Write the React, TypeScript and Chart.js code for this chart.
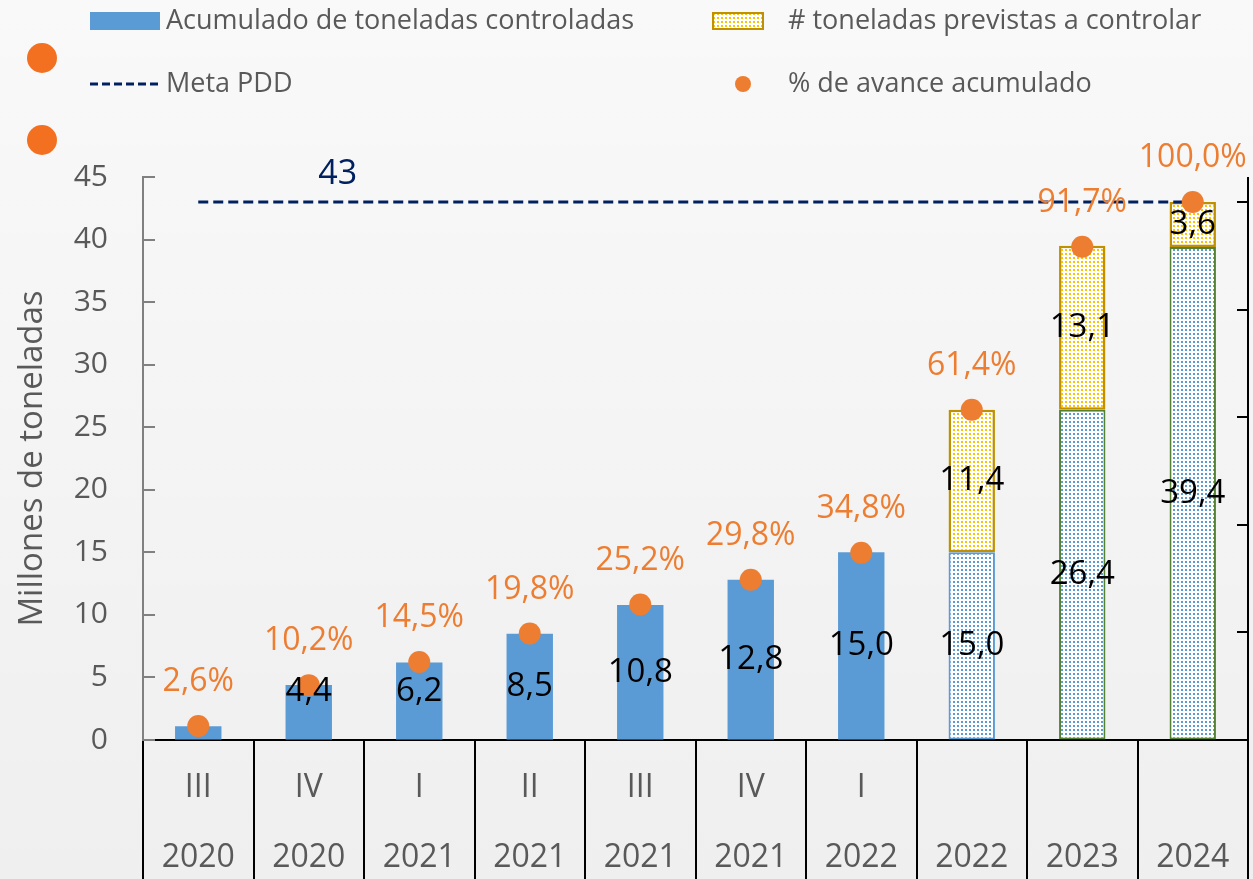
import React, { useEffect, useRef } from 'react';
import { Chart, registerables } from 'chart.js';

Chart.register(...registerables);

// ---------- Data ----------
const quarters = ['III', 'IV', 'I', 'II', 'III', 'IV', 'I', '', '', ''];
const years = ['2020', '2020', '2021', '2021', '2021', '2021', '2022', '2022', '2023', '2024'];
const controlled = [1.1, 4.4, 6.2, 8.5, 10.8, 12.8, 15.0, 15.0, 26.4, 39.4];
const forecast = [null, null, null, null, null, null, null, 11.4, 13.1, 3.6];
const progressPct = [2.6, 10.2, 14.5, 19.8, 25.2, 29.8, 34.8, 61.4, 91.7, 100.0];
const goalPDD = 43;
const yMax = 45;
const yStep = 5;
const pctStep = 20;

const legendLabels = [
  'Acumulado de toneladas controladas',
  '# toneladas previstas a controlar',
  'Meta PDD',
  '% de avance acumulado',
];

// ---------- Styles ----------
const FONT = '"Open Sans", "Noto Sans", sans-serif';
const GRAY = '#595959';
const BLUE = '#5B9BD5';
const ORANGE = '#ED7D31';
const YELLOW = '#FFC000';
const GOLD = '#BF9000';
const GREEN = '#548235';
const NAVY = '#002060';
const FIRST_FORECAST = 7;

function makeDots(color: string): CanvasPattern | string {
  const c = document.createElement('canvas');
  c.width = 4;
  c.height = 4;
  const g = c.getContext('2d');
  if (!g) return color;
  g.fillStyle = '#ffffff';
  g.fillRect(0, 0, 4, 4);
  g.fillStyle = color;
  g.fillRect(1, 1, 2, 2);
  const p = g.createPattern(c, 'repeat');
  return p || color;
}

const fmt = (v: number) => v.toFixed(1).replace('.', ',');

export default function App() {
  const ref = useRef<HTMLCanvasElement | null>(null);

  useEffect(() => {
    document.body.style.margin = '0';
    document.body.style.background = '#f4f4f4';
    const canvas = ref.current;
    if (!canvas) return;
    const blueDots = makeDots(BLUE);
    const yellowDots = makeDots(YELLOW);
    const labels = years.map((y, i) => [quarters[i], y]);

    const bgPlugin = {
      id: 'bg',
      beforeDraw(chart: any) {
        const { ctx, width, height } = chart;
        ctx.save();
        const grd = ctx.createLinearGradient(0, 0, 0, height);
        grd.addColorStop(0, '#f9f9f9');
        grd.addColorStop(1, '#efefef');
        ctx.fillStyle = grd;
        ctx.fillRect(0, 0, width, height);
        ctx.restore();
      },
    };

    const axesPlugin = {
      id: 'innerTicks',
      afterDraw(chart: any) {
        const { ctx, chartArea } = chart;
        const y = chart.scales.y;
        const y2 = chart.scales.y2;
        ctx.save();
        ctx.strokeStyle = '#808080';
        ctx.lineWidth = 2;
        y.ticks.forEach((t: any) => {
          const py = Math.round(y.getPixelForValue(t.value));
          ctx.beginPath();
          ctx.moveTo(chartArea.left, py);
          ctx.lineTo(chartArea.left + 12, py);
          ctx.stroke();
        });
        ctx.strokeStyle = '#000000';
        ctx.beginPath();
        ctx.moveTo(chartArea.right, chartArea.top);
        ctx.lineTo(chartArea.right, chartArea.bottom);
        ctx.stroke();
        y2.ticks
          .filter((t: any) => Math.abs(t.value / pctStep - Math.round(t.value / pctStep)) < 1e-6)
          .forEach((t: any) => {
            const py = Math.round(y2.getPixelForValue(t.value));
            ctx.beginPath();
            ctx.moveTo(chartArea.right - 11, py);
            ctx.lineTo(chartArea.right, py);
            ctx.stroke();
          });
        ctx.restore();
      },
    };

    const labelsPlugin = {
      id: 'valueLabels',
      afterDatasetsDraw(chart: any) {
        const { ctx } = chart;
        ctx.save();
        ctx.textAlign = 'center';
        ctx.textBaseline = 'middle';
        ctx.font = `33px ${FONT}`;
        ctx.fillStyle = '#000000';
        [0, 1].forEach((di) => {
          const meta = chart.getDatasetMeta(di);
          const data = chart.data.datasets[di].data;
          meta.data.forEach((el: any, i: number) => {
            const v = data[i];
            if (v == null || v < 2) return;
            let cy = (el.y + el.base) / 2;
            if (di === 0) cy = Math.min(cy, el.base - 48);
            ctx.fillText(fmt(v), el.x, cy);
          });
        });
        ctx.font = `32px ${FONT}`;
        ctx.fillStyle = ORANGE;
        const pm = chart.getDatasetMeta(3);
        pm.data.forEach((el: any, i: number) => {
          ctx.fillText(fmt(progressPct[i]) + '%', el.x, el.y - 44);
        });
        const lm = chart.getDatasetMeta(2);
        const p = lm.data[1];
        ctx.font = `34px ${FONT}`;
        ctx.fillStyle = NAVY;
        ctx.fillText(String(goalPDD), p.x + 29, p.y - 28);
        ctx.restore();
      },
    };

    const legendPlugin = {
      id: 'customLegend',
      afterDraw(chart: any) {
        const { ctx } = chart;
        ctx.save();
        ctx.font = `27px ${FONT}`;
        ctx.textAlign = 'left';
        ctx.textBaseline = 'middle';
        ctx.fillStyle = BLUE;
        ctx.fillRect(90, 12, 70, 18);
        ctx.fillStyle = GRAY;
        ctx.fillText(legendLabels[0], 166, 21);
        ctx.fillStyle = yellowDots as any;
        ctx.fillRect(713, 13, 50, 16);
        ctx.strokeStyle = GOLD;
        ctx.lineWidth = 2;
        ctx.strokeRect(713, 13, 50, 16);
        ctx.fillStyle = GRAY;
        ctx.fillText(legendLabels[1], 788, 21);
        ctx.strokeStyle = NAVY;
        ctx.lineWidth = 3;
        ctx.setLineDash([8, 4]);
        ctx.beginPath();
        ctx.moveTo(90, 84);
        ctx.lineTo(160, 84);
        ctx.stroke();
        ctx.setLineDash([]);
        ctx.fillText(legendLabels[2], 166, 84);
        ctx.fillStyle = ORANGE;
        ctx.beginPath();
        ctx.arc(743, 84, 8, 0, Math.PI * 2);
        ctx.fill();
        ctx.fillStyle = GRAY;
        ctx.fillText(legendLabels[3], 788, 84);
        ctx.fillStyle = '#F37021';
        [58, 140].forEach((cy) => {
          ctx.beginPath();
          ctx.arc(42, cy, 15, 0, Math.PI * 2);
          ctx.fill();
        });
        ctx.restore();
      },
    };

    const chart = new Chart(canvas, {
      type: 'bar',
      data: {
        labels,
        datasets: [
          {
            type: 'bar',
            label: legendLabels[0],
            data: controlled,
            stack: 'tons',
            backgroundColor: (c: any) => (c.dataIndex >= FIRST_FORECAST ? blueDots : BLUE),
            borderColor: (c: any) =>
              c.dataIndex > FIRST_FORECAST ? GREEN : c.dataIndex === FIRST_FORECAST ? BLUE : 'rgba(0,0,0,0)',
            borderWidth: (c: any) => (c.dataIndex >= FIRST_FORECAST ? 2 : 0),
            borderSkipped: false,
            barPercentage: 0.42,
            categoryPercentage: 1.0,
            order: 3,
          },
          {
            type: 'bar',
            label: legendLabels[1],
            data: forecast,
            stack: 'tons',
            backgroundColor: yellowDots as any,
            borderColor: GOLD,
            borderWidth: 2.5,
            borderSkipped: false,
            barPercentage: 0.42,
            categoryPercentage: 1.0,
            order: 3,
          },
          {
            type: 'line',
            label: legendLabels[2],
            data: labels.map(() => goalPDD),
            stack: 'goal',
            borderColor: NAVY,
            borderWidth: 3,
            borderDash: [10, 5],
            pointRadius: 0,
            fill: false,
            order: 2,
          },
          {
            type: 'line',
            label: legendLabels[3],
            data: progressPct,
            yAxisID: 'y2',
            stack: 'pct',
            showLine: false,
            pointRadius: 11,
            pointHoverRadius: 11,
            pointBackgroundColor: ORANGE,
            pointBorderWidth: 0,
            backgroundColor: ORANGE,
            borderColor: ORANGE,
            order: 1,
          },
        ] as any,
      },
      options: {
        responsive: false,
        animation: false,
        devicePixelRatio: 1,
        layout: { autoPadding: false, padding: { top: 177, left: 0, right: 0, bottom: 0 } },
        plugins: { legend: { display: false }, tooltip: { enabled: false } },
        scales: {
          x: {
            stacked: true,
            offset: true,
            grid: {
              display: true,
              drawOnChartArea: false,
              offset: true,
              drawTicks: true,
              tickLength: 139,
              color: '#000000',
              lineWidth: 2,
            },
            border: { display: true, color: '#000000', width: 2 },
            ticks: {
              color: GRAY,
              font: { family: FONT, size: 32, lineHeight: 70 / 32 },
              padding: -126,
              maxRotation: 0,
              autoSkip: false,
            },
            afterFit: (s: any) => {
              s.height = 139;
            },
          },
          y: {
            stacked: true,
            min: 0,
            max: yMax,
            ticks: { stepSize: yStep, color: GRAY, font: { family: FONT, size: 30 }, padding: 35 },
            grid: { drawOnChartArea: false, drawTicks: false },
            border: { display: true, color: '#808080', width: 2 },
            title: {
              display: true,
              text: 'Millones de toneladas',
              color: GRAY,
              font: { family: FONT, size: 33 },
              padding: { top: 13, bottom: 0 },
            },
            afterFit: (s: any) => {
              s.width = 143;
            },
          },
          y2: {
            position: 'right',
            min: 0,
            max: (yMax / goalPDD) * 100,
            ticks: { display: false, stepSize: pctStep },
            grid: { drawOnChartArea: false, drawTicks: false },
            border: { display: false },
            afterFit: (s: any) => {
              s.width = 5;
            },
          },
        },
      } as any,
      plugins: [bgPlugin, axesPlugin, labelsPlugin, legendPlugin],
    });

    return () => chart.destroy();
  }, []);

  return (
    <div style={{ width: 1253, height: 879, position: 'relative' }}>
      <canvas ref={ref} width={1253} height={879} style={{ display: 'block' }} />
    </div>
  );
}
